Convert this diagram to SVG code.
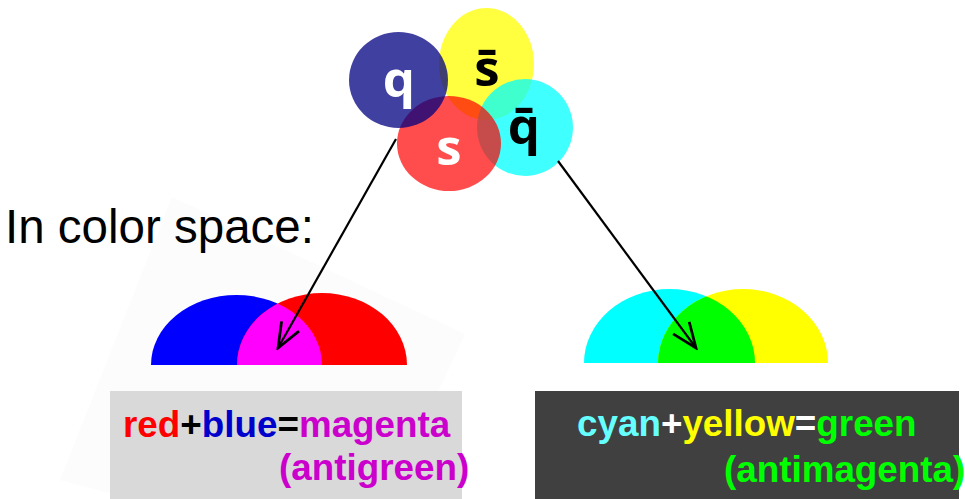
<svg xmlns="http://www.w3.org/2000/svg" width="965" height="499" viewBox="0 0 965 499">
<style>
.q{font-family:"Open Sans","DejaVu Sans",sans-serif;font-weight:bold;font-size:51px;text-anchor:middle}
.lbl{font-family:"Liberation Sans",Arial,sans-serif;font-weight:bold;font-size:36.8px}
.conn{fill:none;stroke:#000;stroke-width:2.2}
</style>
<defs>
<marker id="ah" markerUnits="userSpaceOnUse" markerWidth="30" markerHeight="30" refX="0" refY="0" viewBox="-22 -11 24 22" orient="auto">
<path d="M-20,-8 L0,0 L-20,8" fill="none" stroke="#000" stroke-width="2.2"/>
</marker>
<clipPath id="clipBlue"><path d="M151,365 A85.5,70 0 0 1 322,365 Z"/></clipPath>
<clipPath id="clipCyan"><path d="M584,363 A85.5,74 0 0 1 755,363 Z"/></clipPath>
</defs>
<rect width="965" height="499" fill="#fff"/>
<polygon points="172,197 465,334 360,560 60,480" fill="#fcfcfc"/>

<g id="quarks">
<ellipse cx="486.5" cy="64" rx="47.5" ry="56" fill="#ffff00" fill-opacity="0.75"/>
<ellipse cx="525" cy="127.5" rx="48" ry="48.5" fill="#00ffff" fill-opacity="0.75"/>
<ellipse cx="449" cy="143.5" rx="52" ry="47.5" fill="#ff0000" fill-opacity="0.7"/>
<ellipse cx="398.5" cy="80" rx="49.5" ry="48" fill="#000080" fill-opacity="0.75"/>
</g>
<g id="node-q"><text class="q" x="399" y="97" fill="#fff">q</text></g>
<g id="node-sbar"><text class="q" x="487" y="86" fill="#000">s̄</text></g>
<g id="node-s"><text class="q" x="449" y="165" fill="#fff">s</text></g>
<g id="node-qbar"><text class="q" x="524" y="144" fill="#000">q̄</text></g>

<g id="title"><text x="5" y="243" font-family="Liberation Sans, Arial, sans-serif" font-size="47.5" fill="#000">In color space:</text></g>

<g id="node-left-colors">
<path d="M151,365 A85.5,70 0 0 1 322,365 Z" fill="#0000ff"/>
<path d="M237,365 A85,72 0 0 1 407,365 Z" fill="#ff0000"/>
<path d="M237,365 A85,72 0 0 1 407,365 Z" fill="#ff00ff" clip-path="url(#clipBlue)"/>
</g>
<g id="node-right-colors">
<path d="M584,363 A85.5,74 0 0 1 755,363 Z" fill="#00ffff"/>
<path d="M658,363 A85,74 0 0 1 828,363 Z" fill="#ffff00"/>
<path d="M658,363 A85,74 0 0 1 828,363 Z" fill="#00ff00" clip-path="url(#clipCyan)"/>
</g>

<g id="connectors">
<line class="conn" x1="396" y1="139" x2="278" y2="348" marker-end="url(#ah)"/>
<line class="conn" x1="558" y1="161" x2="696" y2="348" marker-end="url(#ah)"/>
</g>

<g id="node-left-box">
<rect x="110" y="391" width="352" height="108" fill="#d9d9d9"/>
<text class="lbl" x="123" y="437"><tspan fill="#ff0000">red</tspan><tspan fill="#000">+</tspan><tspan fill="#0000cc">blue</tspan><tspan fill="#000">=</tspan><tspan fill="#cc00cc">magenta</tspan></text>
<text class="lbl" x="279" y="480" fill="#cc00cc">(antigreen)</text>
</g>
<g id="node-right-box">
<rect x="535" y="391" width="424" height="108" fill="#404040"/>
<text class="lbl" x="577" y="436"><tspan fill="#66ffff">cyan</tspan><tspan fill="#fff">+</tspan><tspan fill="#ffff00">yellow</tspan><tspan fill="#fff">=</tspan><tspan fill="#00ff00">green</tspan></text>
<text class="lbl" x="724" y="482" fill="#00ff00">(antimagenta)</text>
</g>
</svg>
